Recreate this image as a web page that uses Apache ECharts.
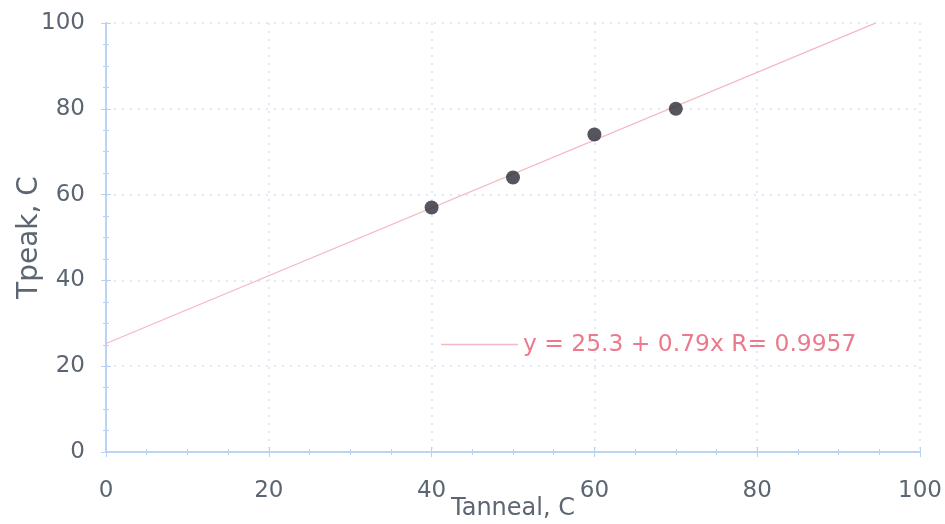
<!DOCTYPE html>
<html><head><meta charset="utf-8">
<script src="https://cdn.jsdelivr.net/npm/echarts@6/dist/echarts.min.js"></script>
<style>html,body{margin:0;padding:0;background:#fff;overflow:hidden}#c{width:945px;height:524px}</style>
</head><body><div id="c"></div>
<script>
const tanneal = [40, 50, 60, 70];
const tpeak = [57, 64, 74, 80];
const fitIntercept = 25.3;
const fitSlope = 0.79;
const fitRange = [0, 94.6];
const fitLabel = 'y = 25.3 + 0.79x R= 0.9957';
const xTitle = 'Tanneal, C';
const yTitle = 'Tpeak, C';

const fitData = fitRange.map(x => [x, fitIntercept + fitSlope * x]);
const font = 'DejaVu Sans, sans-serif';
const axisBlue = '#b9d1f2';
const labelGray = '#5c6672';

function mkAxis(extra) {
  return Object.assign({
    type: 'value', min: 0, max: 100, interval: 20,
    axisLine: { show: true, lineStyle: { color: axisBlue, width: 1.5 } },
    axisTick: { show: true, inside: true, length: 5, lineStyle: { color: axisBlue } },
    minorTick: { show: true, splitNumber: 4, length: 3, lineStyle: { color: axisBlue } },
    splitLine: { show: false },
    axisLabel: { color: labelGray, fontSize: 23, fontFamily: font }
  }, extra);
}

const chart = echarts.init(document.getElementById('c'));
chart.setOption({
  animation: false,
  backgroundColor: '#fff',
  grid: { left: 106, right: 25, top: 23, bottom: 72, containLabel: false, outerBoundsMode: 'none' },
  legend: {
    data: [fitLabel], left: 436, top: 328, icon: 'rect', itemWidth: 77, itemHeight: 1.5,
    itemGap: 10,
    textStyle: { color: '#ea7a8c', fontSize: 23.4, fontFamily: font }
  },
  xAxis: [
    mkAxis({ position: 'bottom', name: xTitle, nameLocation: 'middle', nameGap: 45, nameMoveOverlap: false,
      nameTextStyle: { color: labelGray, fontSize: 24, fontFamily: font },
      axisLabel: { color: labelGray, fontSize: 23, fontFamily: font, margin: 28 },
      splitLine: { show: true, lineStyle: { color: '#d4e3f6', type: [2, 6], width: 1.5 } } }),
    mkAxis({ position: 'top', axisLabel: { show: false },
      axisLine: { show: true, lineStyle: { color: axisBlue, width: 1.5 } } })
  ],
  yAxis: [
    mkAxis({ position: 'left', name: yTitle, nameLocation: 'middle', nameGap: 62, nameMoveOverlap: false,
      nameTextStyle: { color: labelGray, fontSize: 28, fontFamily: font },
      axisLabel: { color: labelGray, fontSize: 23, fontFamily: font, margin: 21 },
      splitLine: { show: true, lineStyle: { color: '#d4e3f6', type: [2, 6], width: 1.5 } } }),
    mkAxis({ position: 'right', axisLabel: { show: false } })
  ],
  series: [
    { name: fitLabel, type: 'line', data: fitData, showSymbol: false, symbol: 'none',
      lineStyle: { color: '#f3b8c4', width: 1.2 }, itemStyle: { color: '#f3b8c4' }, z: 2 },
    { name: 'data', type: 'scatter', data: tanneal.map((x, i) => [x, tpeak[i]]),
      symbolSize: 14, itemStyle: { color: '#2b2b36' }, z: 3 }
  ]
});
</script></body></html>
